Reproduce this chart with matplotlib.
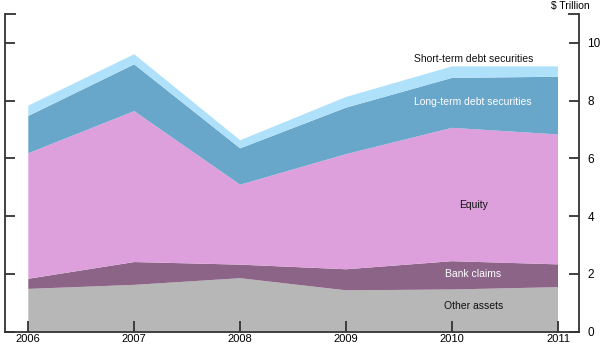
import matplotlib.pyplot as plt

plt.rcParams['font.family'] = ['Liberation Sans', 'DejaVu Sans']

# Holdings by asset class, $ trillion (layer thickness, stacked bottom to top)
years = [2006, 2007, 2008, 2009, 2010, 2011]
other_assets = [1.48, 1.62, 1.85, 1.43, 1.46, 1.54]
bank_claims = [0.35, 0.79, 0.47, 0.73, 0.98, 0.79]
equity = [4.35, 5.23, 2.77, 3.99, 4.62, 4.50]
long_term_debt = [1.29, 1.62, 1.26, 1.61, 1.73, 2.00]
short_term_debt = [0.36, 0.35, 0.28, 0.37, 0.40, 0.36]

colors = ['#b7b7b7', '#8c6488', '#dea0dc', '#68a6ca', '#afe1fb']

fig = plt.figure(figsize=(6, 3.44), dpi=100)
ax = fig.add_axes([0.0083, 0.036, 0.957, 0.923])

ax.stackplot(years, other_assets, bank_claims, equity, long_term_debt,
             short_term_debt, colors=colors, linewidth=0)

# layer labels
lbl = dict(ha='center', va='center', fontsize=7.5)
ax.text(2010.2, 0.88, 'Other assets', color='#111111', **lbl)
ax.text(2010.2, 2.0, 'Bank claims', color='white', **lbl)
ax.text(2010.2, 4.4, 'Equity', color='#111111', **lbl)
ax.text(2010.2, 7.95, 'Long-term debt securities', color='white', **lbl)
ax.text(2010.2, 9.45, 'Short-term debt securities', color='#111111', **lbl)

ax.set_xlim(2005.78, 2011.2)
ax.set_ylim(0, 11)
ax.set_xticks(years)
ax.set_yticks([0, 2, 4, 6, 8, 10])
ax.set_yticks([11], minor=True)

spine_color = '#333333'
ax.spines['top'].set_visible(False)
for side in ['left', 'right', 'bottom']:
    ax.spines[side].set_color(spine_color)
    ax.spines[side].set_linewidth(1.3)

ax.tick_params(axis='y', which='major', direction='in', left=True, right=True,
               labelleft=False, labelright=True, length=7, width=1.3,
               color=spine_color, labelsize=8.5, pad=6)
ax.tick_params(axis='y', which='minor', direction='in', left=True, right=True,
               length=8, width=1.3, color=spine_color)
ax.tick_params(axis='x', direction='in', length=8, width=1.3,
               color=spine_color, labelsize=8, pad=1.5)

ax.text(0.985, 1.01, '$ Trillion', transform=ax.transAxes, ha='center',
        va='bottom', fontsize=7.5)

fig.savefig('out.png', dpi=100)
